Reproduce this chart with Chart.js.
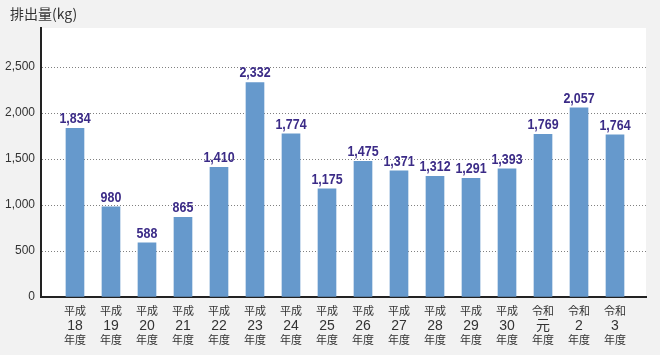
<!DOCTYPE html>
<html>
<head>
<meta charset="utf-8">
<script src="https://cdn.jsdelivr.net/npm/chart.js@4/dist/chart.umd.min.js"></script>
<style>
html,body{margin:0;padding:0;background:#f2f2f2;}
#wrap{width:660px;height:355px;position:relative;}
</style>
</head>
<body>
<div id="wrap"><canvas id="c" width="660" height="355"></canvas></div>
<script>
const eras = ['平成','平成','平成','平成','平成','平成','平成','平成','平成','平成','平成','平成','平成','令和','令和','令和'];
const years = ['18','19','20','21','22','23','24','25','26','27','28','29','30','元','2','3'];
const suffix = '年度';
const emissions = [1834, 980, 588, 865, 1410, 2332, 1774, 1175, 1475, 1371, 1312, 1291, 1393, 1769, 2057, 1764];
const yTicks = [0, 500, 1000, 1500, 2000, 2500];
const titleText = '排出量(kg)';

const fmt = v => v.toLocaleString('en-US');
const idx = years.map((y, i) => i);

const bgPlugin = {
  id: 'bg',
  beforeDraw(chart) {
    const {ctx, chartArea: a} = chart;
    ctx.save();
    ctx.fillStyle = '#f2f2f2';
    ctx.fillRect(0, 0, chart.width, chart.height);
    ctx.fillStyle = '#ffffff';
    ctx.fillRect(a.left, a.top, a.right - a.left, a.bottom - a.top);
    ctx.fillStyle = '#333333';
    ctx.font = '14px "Noto Sans CJK JP", sans-serif';
    ctx.textAlign = 'left';
    ctx.textBaseline = 'middle';
    ctx.fillText(titleText, 10, 14);
    ctx.restore();
  }
};

const labelPlugin = {
  id: 'vlabels',
  afterDatasetsDraw(chart) {
    const {ctx} = chart;
    const meta = chart.getDatasetMeta(0);
    ctx.save();
    ctx.font = 'bold 15px "Liberation Sans", Arial, sans-serif';
    ctx.fillStyle = '#3b2b87';
    ctx.textAlign = 'center';
    ctx.textBaseline = 'alphabetic';
    meta.data.forEach((bar, i) => {
      ctx.save();
      ctx.translate(bar.x, bar.y - 5);
      ctx.scale(0.83, 1);
      ctx.fillText(fmt(emissions[i]), 0, 0);
      ctx.restore();
    });
    ctx.restore();
  }
};

function rowAxis(labels, size, padding, height, showBorder) {
  return {
    type: 'linear',
    position: 'bottom',
    min: -0.944,
    max: 15.861,
    offset: false,
    grid: {display: false, drawTicks: false},
    border: {display: showBorder, color: '#222222', width: 2},
    afterFit(scale) { scale.height = height; },
    afterBuildTicks(scale) { scale.ticks = idx.map(i => ({value: i})); },
    ticks: {
      autoSkip: false,
      maxRotation: 0,
      minRotation: 0,
      padding: padding,
      color: '#333333',
      font: {family: '"Noto Sans CJK JP", "Liberation Sans", sans-serif', size: size, lineHeight: 1.2},
      callback: (v) => (Number.isInteger(v) && v >= 0 && v < labels.length) ? labels[v] : ''
    }
  };
}

const eraAxis = rowAxis(eras, 11, 7, 20, true);
const yearAxis = rowAxis(years, 14, 1, 15, false);
yearAxis.ticks.font.family = '"Liberation Sans", "Noto Sans CJK JP", sans-serif';
const suffixAxis = rowAxis(years.map(() => suffix), 11, 1, 23, false);

new Chart(document.getElementById('c'), {
  type: 'bar',
  data: {
    datasets: [{
      data: emissions.map((v, i) => ({x: i, y: v})),
      backgroundColor: '#6699cc',
      borderWidth: 0,
      barThickness: 18,
      xAxisID: 'x'
    }]
  },
  options: {
    responsive: false,
    animation: false,
    layout: {padding: {left: 0, right: 14, top: 28, bottom: 0}},
    plugins: {
      legend: {display: false},
      tooltip: {enabled: false},
      title: {display: false}
    },
    scales: {
      x: eraAxis,
      x2: yearAxis,
      x3: suffixAxis,
      y: {
        min: 0,
        max: 2924,
        afterFit(scale) { scale.width = 41; },
        afterBuildTicks(scale) { scale.ticks = yTicks.map(v => ({value: v})); },
        grid: {color: '#808080', lineWidth: 1, drawTicks: false},
        border: {display: true, color: '#222222', width: 2, dash: [1, 2]},
        ticks: {
          padding: 6,
          color: '#333333',
          font: {family: '"Liberation Sans", Arial, sans-serif', size: 12},
          callback: v => fmt(v)
        }
      }
    }
  },
  plugins: [bgPlugin, labelPlugin]
});
</script>
</body>
</html>
